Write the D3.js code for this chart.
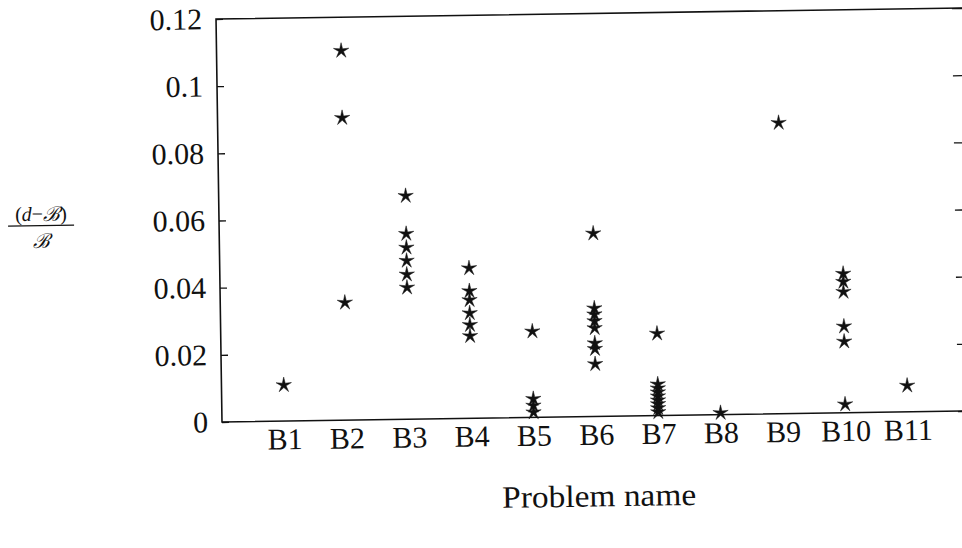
<!DOCTYPE html>
<meta charset="utf-8">
<html>
<head>
<title>Relative deviation by problem</title>
<style>
html, body { margin: 0; background: #fff; }
text { font-family: "Liberation Serif", "DejaVu Serif", serif; fill: #111; }
</style>
<script src="https://d3js.org/d3.v7.min.js"></script>
</head>
<body>
<div id="chart"></div>
<script>
// problem names along the bottom
var problems = ["B1", "B2", "B3", "B4", "B5", "B6", "B7", "B8", "B9", "B10", "B11"];

// (d - B) / B values, one list per problem
var b1 = [0.0107];
var b2 = [0.110, 0.090, 0.035];
var b3 = [0.0665, 0.0552, 0.0511, 0.0472, 0.0431, 0.0392];
var b4 = [0.0447, 0.0379, 0.0352, 0.0313, 0.0278, 0.0245];
var b5 = [0.0256, 0.0055, 0.0035, 0.0015];
var b6 = [0.0545, 0.0322, 0.0304, 0.0284, 0.0263, 0.0218, 0.0201, 0.0156];
var b7 = [0.0244, 0.0093, 0.0081, 0.0069, 0.0057, 0.0045, 0.0034, 0.0022, 0.0010];
var b8 = [0.0005];
var b9 = [0.0866];
var b10 = [0.0414, 0.0390, 0.0360, 0.0257, 0.0212, 0.0025];
var b11 = [0.0078];
var values = [b1, b2, b3, b4, b5, b6, b7, b8, b9, b10, b11];

// y axis ticks
var yTicks = [0, 0.02, 0.04, 0.06, 0.08, 0.1, 0.12];
var yTickLabels = ["0", "0.02", "0.04", "0.06", "0.08", "0.1", "0.12"];

var W = 962, H = 548;
var margin = {left: 222, right: 970, top: 19, bottom: 422};

var svg = d3.select("#chart").append("svg")
    .attr("width", W)
    .attr("height", H);

svg.append("rect").attr("width", W).attr("height", H).attr("fill", "#fff");

// the scan is tilted a little, so tilt the whole drawing with it
var g = svg.append("g")
    .attr("transform", "rotate(-0.85," + margin.left + "," + margin.bottom + ")");

var x = d3.scalePoint()
    .domain(problems)
    .range([margin.left, margin.right])
    .padding(1);

var y = d3.scaleLinear()
    .domain([0, 0.12])
    .range([margin.bottom, margin.top]);

// frame (right side runs off the page like in the scan)
g.append("rect")
    .attr("x", margin.left).attr("y", margin.top)
    .attr("width", margin.right - margin.left)
    .attr("height", margin.bottom - margin.top)
    .attr("fill", "none")
    .attr("stroke", "#111")
    .attr("stroke-width", 1.6);

// left axis, ticks pointing in
var yAxis = g.append("g")
    .attr("transform", "translate(" + margin.left + ",0)")
    .call(d3.axisLeft(y)
        .tickValues(yTicks)
        .tickFormat(function(d, i) { return yTickLabels[i]; })
        .tickSizeInner(-7).tickSizeOuter(0).tickPadding(14));
yAxis.select(".domain").remove();
yAxis.selectAll(".tick line").attr("stroke", "#111").attr("stroke-width", 1.3);
yAxis.selectAll(".tick text")
    .style("font-size", "30px")
    .style("font-family", "Liberation Serif, serif")
    .attr("fill", "#111");

// right axis, ticks only
var yAxisR = g.append("g")
    .attr("transform", "translate(" + margin.right + ",0)")
    .call(d3.axisRight(y)
        .tickValues(yTicks)
        .tickFormat("")
        .tickSizeInner(-12).tickSizeOuter(0));
yAxisR.select(".domain").remove();
yAxisR.selectAll(".tick line").attr("stroke", "#111").attr("stroke-width", 1.3);

// bottom labels, no tick marks
var xAxis = g.append("g")
    .attr("transform", "translate(0," + margin.bottom + ")")
    .call(d3.axisBottom(x).tickSize(0).tickPadding(7));
xAxis.select(".domain").remove();
xAxis.selectAll(".tick text")
    .style("font-size", "30px")
    .style("font-family", "Liberation Serif, serif")
    .attr("fill", "#111");

// thin five pointed star like TeX's \star
var thinStar = {
  draw: function(ctx, size) {
    var R = Math.sqrt(size) / 2, r = R * 0.3;
    for (var k = 0; k < 10; k++) {
      var a = -Math.PI / 2 + k * Math.PI / 5;
      var rad = k % 2 === 0 ? R : r;
      var px = rad * Math.cos(a), py = rad * Math.sin(a);
      if (k === 0) ctx.moveTo(px, py); else ctx.lineTo(px, py);
    }
    ctx.closePath();
  }
};
var star = d3.symbol().type(thinStar).size(260);

var points = [];
values.forEach(function(list, i) {
  list.forEach(function(v) { points.push({ name: problems[i], v: v }); });
});

g.selectAll(".pt")
  .data(points)
  .enter()
  .append("path")
    .attr("class", "pt")
    .attr("d", star)
    .attr("transform", function(d) { return "translate(" + x(d.name) + "," + y(d.v) + ")"; })
    .attr("fill", "#111")
    .attr("stroke", "#111")
    .attr("stroke-width", 0.5)
    .attr("stroke-linejoin", "miter");

// axis titles
g.append("text")
    .attr("x", 598)
    .attr("y", 512)
    .attr("text-anchor", "middle")
    .attr("textLength", 194)
    .attr("lengthAdjust", "spacingAndGlyphs")
    .style("font-size", "31px")
    .text("Problem name");

var lab = g.append("g").attr("transform", "translate(44,0)");
var num = lab.append("text")
    .attr("x", 0).attr("y", 218)
    .attr("text-anchor", "middle")
    .style("font-size", "20px");
num.append("tspan").text("(");
num.append("tspan").style("font-style", "italic").text("d");
num.append("tspan").text("\u2212");
num.append("tspan").style("font-style", "italic").text("\u212C");
num.append("tspan").text(")");
lab.append("line")
    .attr("x1", -33).attr("x2", 33)
    .attr("y1", 223).attr("y2", 223)
    .attr("stroke", "#111").attr("stroke-width", 1.3);
lab.append("text")
    .attr("x", 0).attr("y", 245)
    .attr("text-anchor", "middle")
    .style("font-size", "20px")
    .style("font-style", "italic")
    .text("\u212C");
</script>
</body>
</html>
